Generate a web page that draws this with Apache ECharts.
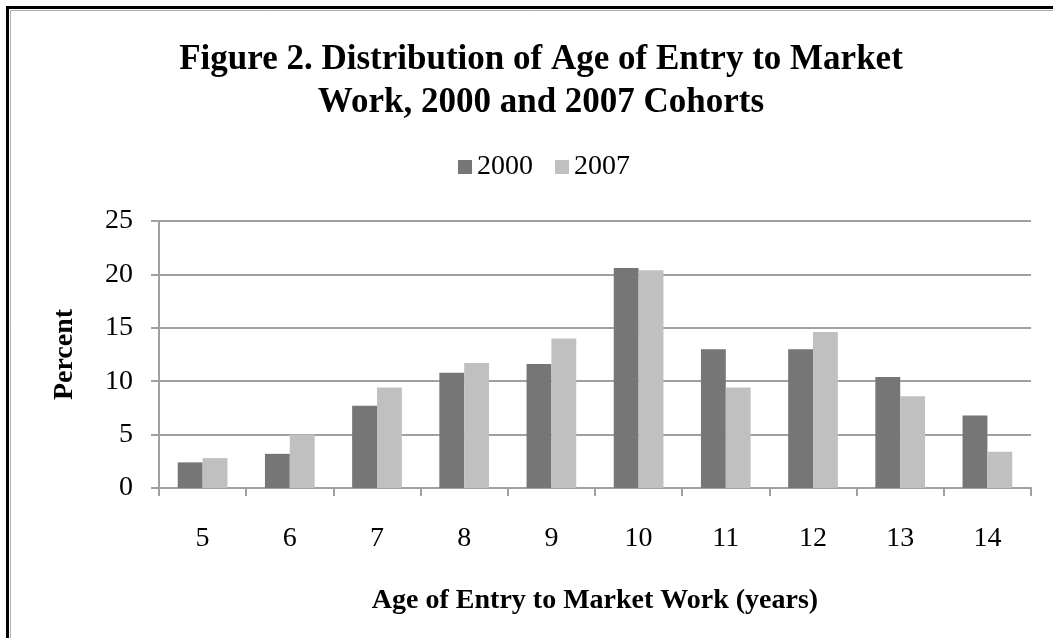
<!DOCTYPE html>
<html>
<head>
<meta charset="utf-8">
<title>Figure 2</title>
<script src="https://cdn.jsdelivr.net/npm/echarts@6/dist/echarts.min.js"></script>
<style>
  html, body { margin: 0; padding: 0; background: #fff; }
  #chart { width: 1053px; height: 638px; }
</style>
</head>
<body>
<div id="chart"></div>
<script>
// age of entry (years)
const ages = ['5', '6', '7', '8', '9', '10', '11', '12', '13', '14'];
// percent of cohort
const cohort2000 = [2.4, 3.2, 7.7, 10.8, 11.6, 20.6, 13.0, 13.0, 10.4, 6.8];
const cohort2007 = [2.8, 5.0, 9.4, 11.7, 14.0, 20.4, 9.4, 14.6, 8.6, 3.4];
const yTicks = [0, 5, 10, 15, 20, 25];

const serif = "'Liberation Serif', 'Times New Roman', serif";
const gridGray = '#a0a0a0';

const myChart = echarts.init(document.getElementById('chart'));
myChart.setOption({
  backgroundColor: '#fff',
  animation: false,
  // frame round the figure (only left/top edges fall inside the picture)
  graphic: [
    {
      type: 'rect',
      shape: { x: 7.5, y: 7.5, width: 2000, height: 2000 },
      style: { fill: 'none', stroke: '#000', lineWidth: 3 },
      silent: true
    },
    {
      type: 'rect',
      shape: { x: 10.5, y: 10.5, width: 2000, height: 2000 },
      style: { fill: 'none', stroke: '#b0b0b0', lineWidth: 1 },
      silent: true
    }
  ],
  title: {
    text: 'Figure 2. Distribution of Age of Entry to Market\nWork, 2000 and 2007 Cohorts',
    left: 536,
    top: 33,
    textAlign: 'center',
    textStyle: {
      fontFamily: serif,
      fontWeight: 'bold',
      fontSize: 35,
      lineHeight: 43,
      color: '#000'
    }
  },
  legend: {
    data: ['2000', '2007'],
    left: 453,
    top: 148,
    itemWidth: 14,
    itemHeight: 14,
    itemGap: 22,
    icon: 'rect',
    textStyle: { fontFamily: serif, fontSize: 28, color: '#000' }
  },
  grid: {
    left: 159,
    right: 22,
    top: 221,
    bottom: 150,
    containLabel: false
  },
  xAxis: {
    type: 'category',
    data: ages,
    name: 'Age of Entry to Market Work (years)',
    nameLocation: 'middle',
    nameGap: 99,
    nameTextStyle: { fontFamily: serif, fontWeight: 'bold', fontSize: 28, color: '#000' },
    axisLine: { lineStyle: { color: gridGray, width: 2 } },
    axisTick: { show: true, length: 8, inside: false, lineStyle: { color: gridGray, width: 2 } },
    axisLabel: { fontFamily: serif, fontSize: 28, color: '#000', margin: 37 },
    splitLine: { show: false }
  },
  yAxis: {
    type: 'value',
    min: yTicks[0],
    max: yTicks[yTicks.length - 1],
    interval: 5,
    name: 'Percent',
    nameLocation: 'middle',
    nameRotate: 90,
    nameGap: 80,
    nameTextStyle: { fontFamily: serif, fontWeight: 'bold', fontSize: 28, color: '#000' },
    axisLine: { show: true, lineStyle: { color: gridGray, width: 2 } },
    axisTick: { show: true, length: 8, lineStyle: { color: gridGray, width: 2 } },
    axisLabel: { fontFamily: serif, fontSize: 28, color: '#000', margin: 26 },
    splitLine: { show: true, lineStyle: { color: gridGray, width: 2 } }
  },
  series: [
    {
      name: '2000',
      type: 'bar',
      data: cohort2000,
      barGap: '0%',
      barCategoryGap: '43%',
      itemStyle: { color: '#767676' }
    },
    {
      name: '2007',
      type: 'bar',
      data: cohort2007,
      barGap: '0%',
      barCategoryGap: '43%',
      itemStyle: { color: '#c0c0c0' }
    }
  ]
});
</script>
</body>
</html>
